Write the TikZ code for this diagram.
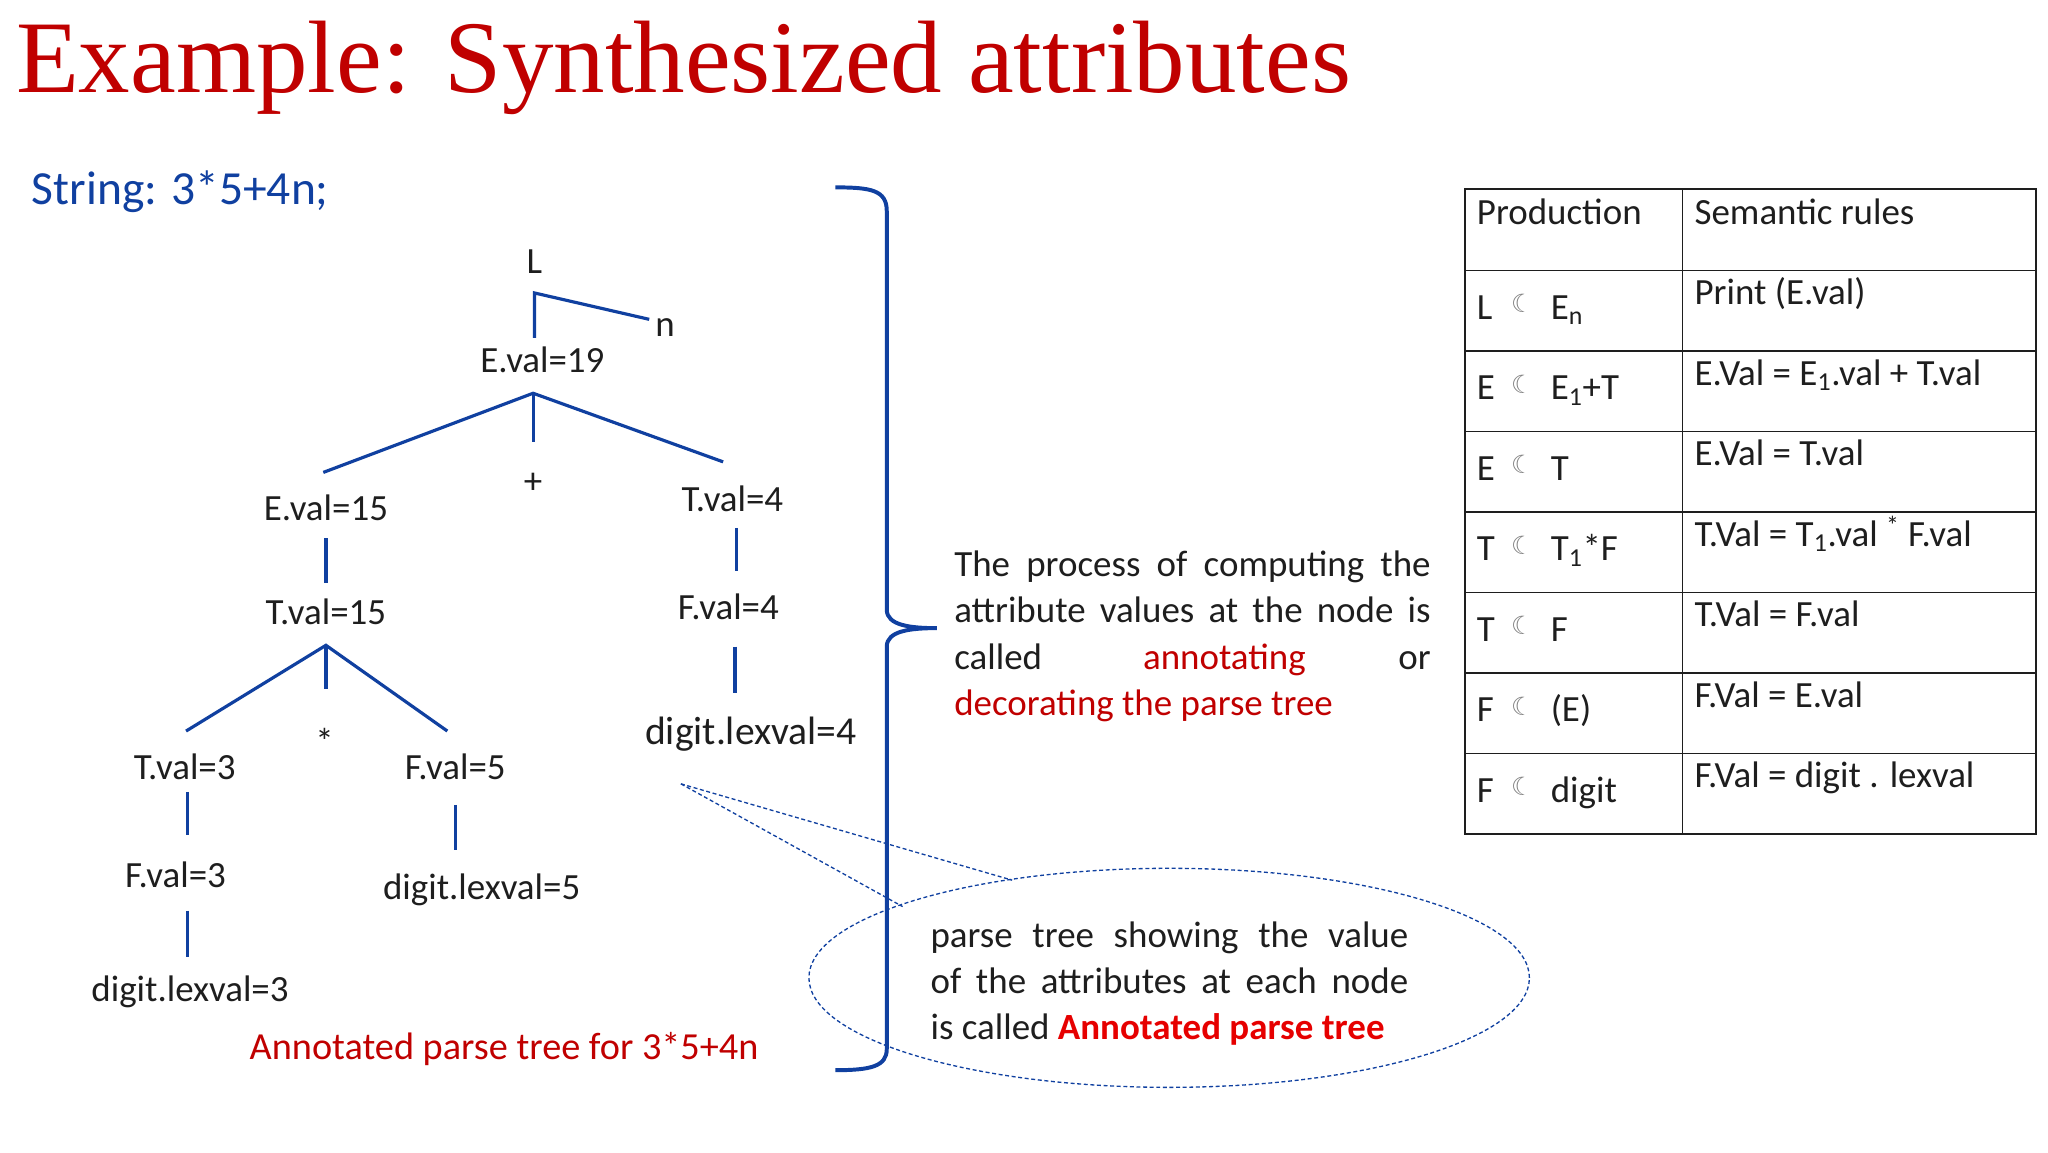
\documentclass[tikz,border=0pt]{standalone}
\usepackage{fontspec}
\usetikzlibrary{shapes.geometric}
\setmainfont{Carlito}
\newfontfamily\titlefont{Liberation Serif}
\newfontfamily\symfont{DejaVu Sans}
\definecolor{tblue}{RGB}{16,64,160}
\definecolor{tred}{RGB}{192,0,0}
\definecolor{bred}{RGB}{230,0,0}
\definecolor{txt}{RGB}{30,30,30}
\begin{document}
\begin{tikzpicture}[x=1pt,y=-1pt,
  tn/.style={font=\fontsize{28}{32}\selectfont,text=txt,inner sep=0pt},
  br/.style={draw=tblue,line width=2.4pt},
  dsh/.style={draw=tblue,line width=1pt,dash pattern=on 3pt off 2pt},
  tt/.style={font=\fontsize{28}{34}\selectfont,text=txt,inner sep=0pt,anchor=base west},
  moon/.style={font=\symfont\fontsize{19}{20}\selectfont,text=gray,inner sep=0pt,anchor=base west}]
\useasboundingbox (0,0) rectangle (1552,873);
\node[anchor=base west,inner sep=0pt,text=tred,font=\titlefont\fontsize{78}{84}\selectfont] (title) at (12,70) {Example: Synthesized attributes};
\node[anchor=base west,inner sep=0pt,text=tblue,font=\fontsize{36}{40}\selectfont] (str) at (24,155) {String: 3*5+4n;};
% tree
\node[tn] (L) at (405,198) {L};
\node[tn] (n) at (504,248) {n};
\node[tn] (E19) at (411,273) {E.val=19};
\node[tn] (plus) at (404,366) {+};
\node[tn] (E15) at (247,385) {E.val=15};
\node[tn] (T4) at (555,378) {T.val=4};
\node[tn] (T15) at (247,464) {T.val=15};
\node[tn] (F4) at (552,460) {F.val=4};
\node[tn] (star) at (246,562) {*};
\node[tn] (T3) at (140,581) {T.val=3};
\node[tn] (F5) at (345,581) {F.val=5};
\node[tn,font=\fontsize{30}{34}\selectfont] (d4) at (569,556) {digit.lexval=4};
\node[tn] (F3) at (133,663) {F.val=3};
\node[tn] (d5) at (365,674) {digit.lexval=5};
\node[tn] (d3) at (144,752) {digit.lexval=3};
\node[tn,text=tred,font=\fontsize{29}{32}\selectfont] (cap) at (382,795) {Annotated parse tree for 3*5+4n};
\coordinate (a1) at (405,222);
\draw[br] (405,256) -- (a1) -- (492,242);
\coordinate (a2) at (404,298);
\draw[br] (245,358) -- (a2) -- (548,350);
\draw[br] (a2) -- (404,335);
\draw[br] (247,408) -- (247,442);
\draw[br] (558,400) -- (558,433);
\coordinate (a3) at (247,489);
\draw[br] (141,554) -- (a3) -- (339,554);
\draw[br] (a3) -- (247,522);
\draw[br] (557,490) -- (557,525);
\draw[br] (142,600) -- (142,633);
\draw[br] (345,610) -- (345,644);
\draw[br] (142,690) -- (142,725);
% brace
\draw[draw=tblue,line width=3pt] (633,142) .. controls (660,142) and (672,144) .. (672,160) -- (672,462) .. controls (672,474) and (690,476) .. (710,476)
  (672,490) .. controls (672,478) and (690,476) .. (710,476)
  (672,490) -- (672,795) .. controls (672,808) and (660,811) .. (633,811);
% paragraph
\node[tt] (p1) at (723,437) {\makebox[361pt][s]{The process of computing the}};
\node[tt] (p2) at (723,472) {\makebox[361pt][s]{attribute values at the node is}};
\node[tt] (p3) at (723,507) {\makebox[361pt][s]{called \hfill\textcolor{tred}{annotating}\hfill or}};
\node[tt,text=tred] (p4) at (723,542) {decorating the parse tree};
% callout
\node[dsh,ellipse,minimum width=546pt,minimum height=166pt,inner sep=0pt] (ell) at (886,741) {};
\coordinate (tip) at (516,594);
\draw[dsh] (tip) -- (767,667);
\draw[dsh] (tip) -- (684,687);
\node[tt] (e1) at (705,718) {\makebox[362pt][s]{parse tree showing the value}};
\node[tt] (e2) at (705,753) {\makebox[362pt][s]{of the attributes at each node}};
\node[tt] (e3) at (705,788) {is called \textcolor{bred}{\bfseries Annotated parse tree}};
% table
\draw[line width=1.3pt,txt] (1110,143) rectangle (1543,632);
\draw[line width=1.3pt,txt] (1275,143) -- (1275,632);
\foreach \y in {205,266,327,388,449,510,571} \draw[line width=1.3pt,txt] (1110,\y) -- (1543,\y);
\node[tt] (h1) at (1119,170) {Production};
\node[tt] (h2) at (1284,170) {Semantic rules};
\foreach \y/\l/\r/\s in {205/L/{E\textsubscript{n}}/Print (E.val),
  266/E/{E\textsubscript{1}+T}/{E.Val = E\textsubscript{1}.val + T.val},
  327/E/T/E.Val = T.val,
  388/T/{T\textsubscript{1}*F}/{T.Val = T\textsubscript{1}.val \textsuperscript{*} F.val},
  449/T/F/T.Val = F.val,
  510/F/(E)/F.Val = E.val,
  571/F/digit/F.Val = digit . lexval}{
  \node[tt] at (1119,\y+37) {\l};
  \node[moon] at (1145,\y+32) {☾};
  \node[tt] at (1175,\y+37) {\r};
  \node[tt] at (1284,\y+26) {\s};
}
\end{tikzpicture}
\end{document}
